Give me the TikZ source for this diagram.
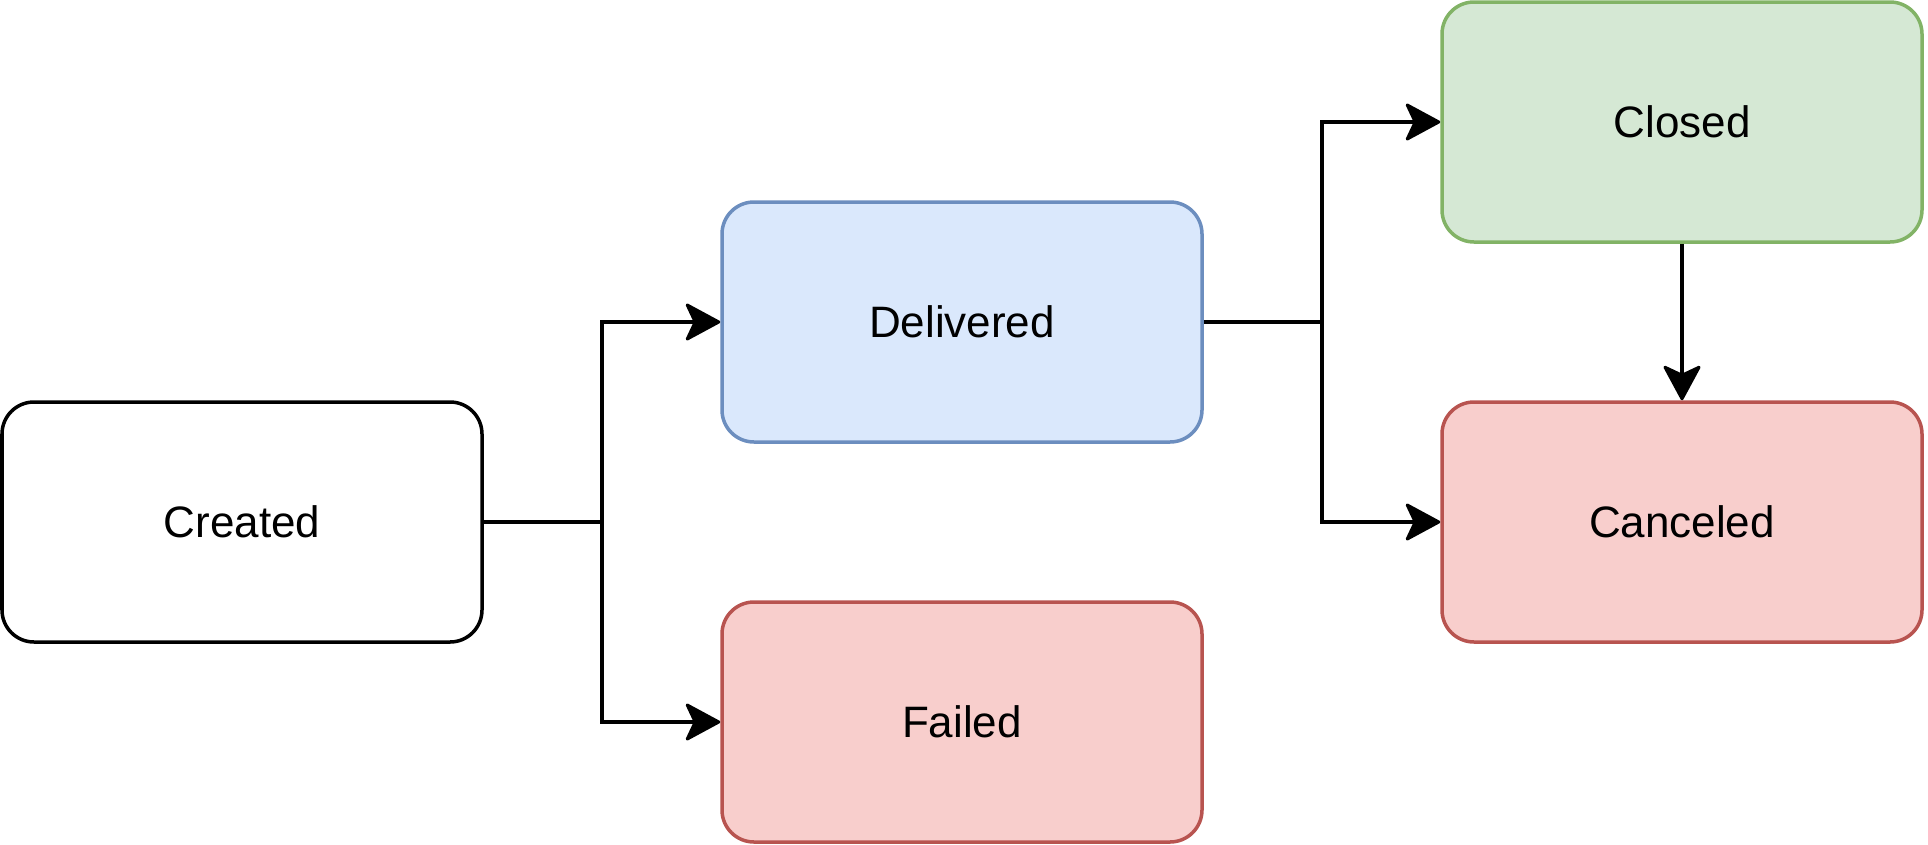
\documentclass[tikz,border=0pt]{standalone}
\usepackage{fontspec}
\setmainfont{Liberation Sans}
\definecolor{blueFill}{HTML}{DAE8FC}
\definecolor{blueLine}{HTML}{6C8EBF}
\definecolor{greenFill}{HTML}{D5E8D4}
\definecolor{greenLine}{HTML}{82B366}
\definecolor{redFill}{HTML}{F8CECC}
\definecolor{redLine}{HTML}{B85450}
\begin{document}
\begin{tikzpicture}[x=1pt,y=1pt,
  state/.style={rectangle, rounded corners=32pt, minimum width=480pt, minimum height=240pt,
    inner sep=0pt, line width=3.5pt, draw, font=\fontsize{44}{53}\selectfont},
  plainstate/.style={state, draw=black, fill=white},
  bluestate/.style={state, draw=blueLine, fill=blueFill},
  greenstate/.style={state, draw=greenLine, fill=greenFill},
  redstate/.style={state, draw=redLine, fill=redFill},
  link/.style={line width=3.5pt, black},
  conn/.style={link, shorten >=24pt},
  arrowtip/.pic={\filldraw[black, line width=3pt, line join=round]
    (-1.5,0) -- (-33,17) -- (-25,0) -- (-33,-17) -- cycle;}]
\useasboundingbox (0,0) rectangle (1928,-844);
\node[plainstate] (created) at (242,-522) {Created};
\node[bluestate] (delivered) at (962,-322) {Delivered};
\node[redstate] (failed) at (962,-722) {Failed};
\node[greenstate] (closed) at (1682,-122) {Closed};
\node[redstate] (canceled) at (1682,-522) {Canceled};
\coordinate (j1) at (602,-522);
\coordinate (j2) at (1322,-322);
\draw[link] (created.east) -- (j1);
\draw[conn] (j1) |- (delivered.west);
\pic at (delivered.west) {arrowtip};
\draw[conn] (j1) |- (failed.west);
\pic at (failed.west) {arrowtip};
\draw[link] (delivered.east) -- (j2);
\draw[conn] (j2) |- (closed.west);
\pic at (closed.west) {arrowtip};
\draw[conn] (j2) |- (canceled.west);
\pic at (canceled.west) {arrowtip};
\draw[conn] (closed.south) -- (canceled.north);
\pic[rotate=-90] at (canceled.north) {arrowtip};
\end{tikzpicture}
\end{document}
